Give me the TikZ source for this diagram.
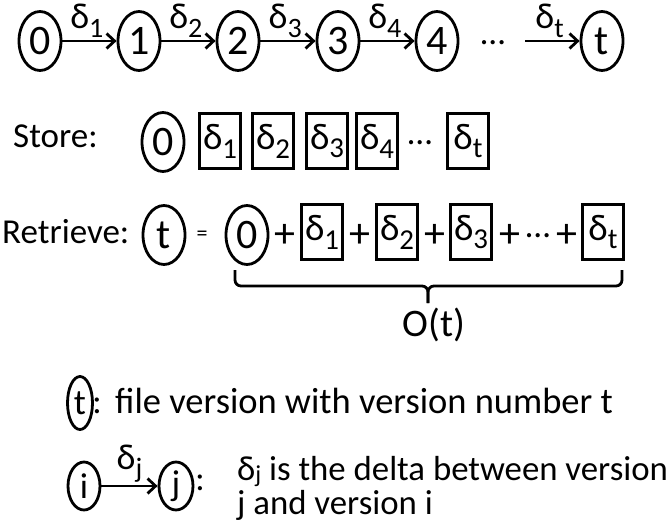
\documentclass[tikz,border=0pt]{standalone}
\usepackage{fontspec}
\setmainfont{Carlito}
\usetikzlibrary{shapes.geometric,arrows.meta}

\newcommand{\dl}[1]{δ\raisebox{-0.24em}{\scalebox{0.78}{#1}}}
\newcommand{\dlt}[1]{δ\raisebox{-0.08em}{\scalebox{0.7}{#1}}}
\newcommand{\tightlines}{\setlength{\lineskiplimit}{-50pt}}

\tikzset{
    ver/.style={draw, ellipse, line width=2.8pt, minimum width=42pt,
      minimum height=59pt, inner sep=0pt, font=\fontsize{42}{42}\selectfont},
    dbox/.style={draw, rectangle, line width=2.8pt, minimum width=41pt,
      minimum height=55pt, inner sep=0pt, font=\fontsize{37}{37}\selectfont},
    lbl/.style={inner sep=0pt, font=\fontsize{35}{35}\selectfont},
    plus/.style={inner sep=0pt, font=\fontsize{42}{42}\selectfont},
    dlbl/.style={above=2pt, pos=0.45, inner sep=0pt, font=\fontsize{36}{36}\selectfont},
    arr/.style={line width=2.8pt, -{Straight Barb[length=8pt,width=15pt]}},
    brc/.style={line width=2.8pt, rounded corners=6pt}
  }

\begin{document}
\begin{tikzpicture}[x=1pt,y=-1pt]
    \useasboundingbox (0,0) rectangle (669,522);

    % version chain
    \node[ver] (v0) at (40,41) {0};
    \node[ver] (v1) at (139,41) {1};
    \node[ver] (v2) at (238,41) {2};
    \node[ver] (v3) at (338,41) {3};
    \node[ver] (v4) at (437,41) {4};
    \node[lbl] (vdots) at (493,43) {…};
    \coordinate (vfrom) at (525,41);
    \node[ver] (vt) at (602,41) {t};

    \draw[arr] (v0) -- node[dlbl]{\dl{1}} (v1);
    \draw[arr] (v1) -- node[dlbl]{\dl{2}} (v2);
    \draw[arr] (v2) -- node[dlbl]{\dl{3}} (v3);
    \draw[arr] (v3) -- node[dlbl]{\dl{4}} (v4);
    \draw[arr] (vfrom) -- node[dlbl]{\dl{t}} (vt);

    % store
    \node[lbl, anchor=base west] (store) at (13,147) {Store:};
    \node[ver] (s0) at (163,142) {0};
    \node[dbox] (s1) at (220,141) {\dl{1}};
    \node[dbox] (s2) at (273,141) {\dl{2}};
    \node[dbox] (s3) at (327,141) {\dl{3}};
    \node[dbox] (s4) at (377,141) {\dl{4}};
    \node[lbl] (sdots) at (420,143) {…};
    \node[dbox] (st) at (468,141) {\dl{t}};

    % retrieve
    \node[lbl, anchor=base west] (retr) at (2,243) {Retrieve:};
    \node[ver] (rt) at (164,235) {t};
    \node[lbl, font=\fontsize{22}{22}\selectfont] (eq) at (202,236) {=};
    \node[ver] (r0) at (247,235) {0};
    \node[plus] (p1) at (285,236) {+};
    \node[dbox] (r1) at (322,232) {\dl{1}};
    \node[plus] (p2) at (360,236) {+};
    \node[dbox] (r2) at (397,232) {\dl{2}};
    \node[plus] (p3) at (435,236) {+};
    \node[dbox] (r3) at (471,232) {\dl{3}};
    \node[plus] (p4) at (510,236) {+};
    \node[lbl] (rdots) at (538,236) {…};
    \node[plus] (p5) at (567,236) {+};
    \node[dbox] (rdt) at (603,232) {\dl{t}};

    \coordinate (bl) at (235,270);
    \coordinate (br) at (622,270);
    \coordinate (bmid) at (428,286);
    \coordinate (btip) at (428,303);
    \draw[brc] (bl) |- (bmid) -- (btip);
    \draw[brc] (br) |- (bmid) -- (btip);
    \node[lbl, font=\fontsize{39}{39}\selectfont, anchor=north] (cost) at (434,308) {O(t)};

    % legend
    \node[ver, minimum width=25pt, minimum height=53pt,
      font=\fontsize{36}{36}\selectfont] (lt) at (80,403) {t};
    \node[lbl, anchor=base] (lcol1) at (97,413) {:};
    \node[lbl, anchor=base west, font=\fontsize{36.5}{36.5}\selectfont] (ltext1) at (115,413)
      {file version with version number t};

    \node[ver, minimum width=32pt, minimum height=48pt,
      font=\fontsize{36}{36}\selectfont] (li) at (84,486) {i};
    \node[ver, minimum width=34pt, minimum height=48pt,
      font=\fontsize{36}{36}\selectfont] (lj) at (176,486) {j};
    \draw[arr] (li) -- node[dlbl, pos=0.5]{\dl{j}} (lj);
    \node[lbl, anchor=base] (lcol2) at (200,490) {:};
    \node[lbl, anchor=base west, align=left,
      font={\fontsize{34.8}{34}\selectfont\tightlines}] (ltext2) at (237,514)
      {\dlt{j} is the delta between version\\j and version i};

\end{tikzpicture}
\end{document}
